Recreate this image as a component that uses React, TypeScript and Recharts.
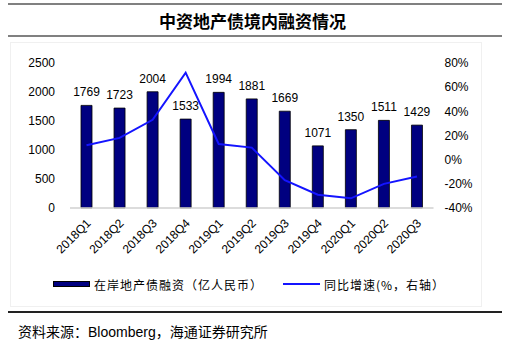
import { ComposedChart, Bar, Line, XAxis, YAxis, LabelList } from 'recharts';

const quarters = [
  '2018Q1', '2018Q2', '2018Q3', '2018Q4', '2019Q1', '2019Q2',
  '2019Q3', '2019Q4', '2020Q1', '2020Q2', '2020Q3',
];
const financing = [1769, 1723, 2004, 1533, 1994, 1881, 1669, 1071, 1350, 1511, 1429];
const yoyGrowth = [12, 18, 33, 72, 13, 10, -17, -29, -32, -20, -14];
const leftTicks = [0, 500, 1000, 1500, 2000, 2500];
const rightTicks = [-40, -20, 0, 20, 40, 60, 80];

const data = quarters.map((q, i) => ({
  quarter: q,
  financing: financing[i],
  yoy: yoyGrowth[i],
}));

const sans = '"Liberation Sans", Arial, sans-serif';
const cjk = '"Noto Sans CJK SC", "Liberation Sans", sans-serif';

const QuarterTick = ({ x, y, payload }: any) => (
  <text
    x={x + 5}
    y={y + 8}
    transform={`rotate(-45, ${x + 5}, ${y + 8})`}
    textAnchor="end"
    fontSize={12}
    fontFamily={sans}
    fill="#000"
  >
    {payload.value}
  </text>
);

export default function App() {
  return (
    <div style={{ position: 'absolute', left: 0, top: 0, width: 505, height: 340, background: '#fff' }}>
      <div style={{ position: 'absolute', left: 8, top: 3, width: 494, height: 2, background: '#808080' }} />
      <div
        style={{
          position: 'absolute', left: 0, top: 8, width: 505, textAlign: 'center',
          fontFamily: cjk, fontWeight: 'bold', fontSize: 17, color: '#000',
        }}
      >
        中资地产债境内融资情况
      </div>
      <div style={{ position: 'absolute', left: 8, top: 35, width: 494, height: 2, background: '#808080' }} />
      <div style={{ position: 'absolute', left: 10, top: 42, width: 472, height: 265, border: '1px solid #f0f0f0', boxSizing: 'border-box' }} />

      <div style={{ position: 'absolute', left: 0, top: 0 }}>
        <ComposedChart width={505} height={300} data={data} margin={{ top: 63, right: 0, bottom: 0, left: 0 }}>
          <XAxis
            dataKey="quarter"
            height={92}
            axisLine={{ stroke: '#d0d0d0', strokeWidth: 1.5 }}
            tickLine={false}
            tick={<QuarterTick />}
            interval={0}
          />
          <YAxis
            yAxisId="left"
            width={70}
            domain={[0, 2500]}
            ticks={leftTicks}
            axisLine={false}
            tickLine={false}
            tickSize={0}
            tickMargin={15}
            tick={{ fontSize: 12, fill: '#000', fontFamily: sans }}
          />
          <YAxis
            yAxisId="right"
            orientation="right"
            width={71.5}
            domain={[-40, 80]}
            ticks={rightTicks}
            axisLine={false}
            tickLine={false}
            tickSize={0}
            tickMargin={11}
            tickFormatter={(v: number) => `${v}%`}
            tick={{ fontSize: 12, fill: '#000', fontFamily: sans, textAnchor: 'start' }}
          />
          <Bar
            yAxisId="left"
            dataKey="financing"
            barSize={11}
            fill="#000080"
            stroke="#000"
            strokeWidth={0.8}
            isAnimationActive={false}
          >
            <LabelList
              dataKey="financing"
              position="top"
              offset={9}
              style={{ fontSize: 12, fill: '#000', fontFamily: sans }}
            />
          </Bar>
          <Line
            yAxisId="right"
            dataKey="yoy"
            stroke="#1414ff"
            strokeWidth={2}
            dot={false}
            isAnimationActive={false}
          />
        </ComposedChart>
      </div>

      <div style={{ position: 'absolute', left: 53, top: 281, width: 37, height: 6, background: '#000080', border: '1px solid #000', boxSizing: 'border-box' }} />
      <div style={{ position: 'absolute', left: 94, top: 276, fontFamily: cjk, fontSize: 12, letterSpacing: 1, color: '#000' }}>
        在岸地产债融资（亿人民币）
      </div>
      <div style={{ position: 'absolute', left: 283, top: 283, width: 37, height: 2, background: '#1414ff' }} />
      <div style={{ position: 'absolute', left: 324, top: 276, fontFamily: cjk, fontSize: 12, letterSpacing: 1, color: '#000' }}>
        同比增速(%，右轴）
      </div>

      <div style={{ position: 'absolute', left: 8, top: 311, width: 494, height: 2, background: '#222' }} />
      <div style={{ position: 'absolute', left: 18, top: 321, fontFamily: cjk, fontSize: 14, color: '#000', whiteSpace: 'nowrap' }}>
        资料来源：<span style={{ fontFamily: sans, fontSize: 14 }}>Bloomberg</span>，海通证券研究所
      </div>
    </div>
  );
}
